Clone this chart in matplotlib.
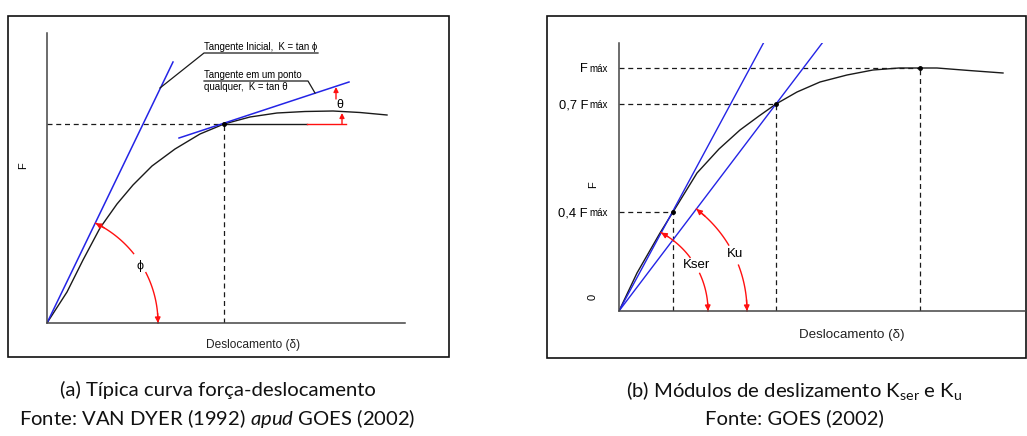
import numpy as np
import matplotlib
matplotlib.use('Agg')
import matplotlib.pyplot as plt
from matplotlib.patches import Rectangle

plt.rcParams['mathtext.fontset'] = 'custom'
plt.rcParams['mathtext.rm'] = 'Lato'
plt.rcParams['mathtext.it'] = 'Lato:italic'

# ---- (a) curva tipica, unidades arbitrarias ----
curva_a_x = [0, 2.0, 3.6, 5.3, 7.0, 8.6, 10.5, 12.8, 15.3, 17.7, 20.3, 23.0, 25.8, 28.6, 31.3, 34.0]
curva_a_y = [0, 3.1, 6.3, 9.5, 11.9, 13.8, 15.7, 17.4, 18.9, 19.9, 20.6, 21.0, 21.15, 21.2, 21.05, 20.8]
ponto_a = (17.7, 19.9)
tang_ini_x = [0, 12.6]
tang_ini_y = [0, 26.1]
tang_pt_x = [13.2, 30.2]
tang_pt_y = [18.5, 24.1]
horiz_preto = [17.7, 26.0]
horiz_vermelho = [26.0, 29.9]
raio_phi = 11.1
ang_phi = 64.0

# ---- (b) modulos de deslizamento ----
curva_b_x = [0, 1.8, 4.1, 5.4, 7.8, 10.0, 12.1, 14.0, 15.7, 17.8, 20.1, 22.8, 25.4, 28.0, 30.1, 31.8, 35.0, 38.4]
curva_b_y = [0, 3.8, 7.8, 9.9, 13.8, 16.2, 18.1, 19.5, 20.7, 21.9, 22.9, 23.6, 24.1, 24.3, 24.3, 24.3, 24.05, 23.8]
pontos_b_x = [5.4, 15.7, 30.1]
pontos_b_y = [9.9, 20.7, 24.3]
rotulos_b = ['0,4 F', '0,7 F', 'F']
kser_fim = (14.5, 26.9)
ku_fim = (20.4, 26.9)
raio_kser, ang_kser = 8.9, 61.7
raio_ku, ang_ku = 12.8, 52.8

W, H = 1027, 436
fig = plt.figure(figsize=(W / 100, H / 100), dpi=100)

azul = '#2424e6'
verm = '#ff1010'
preto = '#1a1a1a'
diag_font = ['Liberation Sans', 'DejaVu Sans']


def arco(ax, r, a0, a1):
    t = np.radians(np.linspace(a0, a1, 40))
    ax.plot(r * np.cos(t), r * np.sin(t), color=verm, lw=1, clip_on=False)


def seta(ax, r, a_fim, sentido):
    t1 = np.radians(a_fim)
    t0 = np.radians(a_fim - sentido * 5)
    ax.annotate('', xy=(r * np.cos(t1), r * np.sin(t1)),
                xytext=(r * np.cos(t0), r * np.sin(t0)),
                arrowprops=dict(arrowstyle='-|>', color=verm, lw=1,
                                shrinkA=0, shrinkB=0, mutation_scale=8),
                annotation_clip=False)


def eixos(ax):
    for s in ['top', 'right']:
        ax.spines[s].set_visible(False)
    for s in ['left', 'bottom']:
        ax.spines[s].set_color('#444444')
        ax.spines[s].set_linewidth(1.1)
    ax.set_xticks([])
    ax.set_yticks([])
    ax.patch.set_alpha(0)


# fundo com molduras e legendas
bg = fig.add_axes([0, 0, 1, 1])
bg.set_xlim(0, W)
bg.set_ylim(H, 0)
bg.axis('off')
bg.add_patch(Rectangle((8, 16), 441, 341, fill=False, lw=1.2, ec='#111111'))
bg.add_patch(Rectangle((547, 16), 479, 342, fill=False, lw=1.2, ec='#111111'))
cap = dict(ha='center', va='center', fontsize=14.6, family='Lato', color='#111111')
bg.text(218, 390, '(a) Típica curva força-deslocamento', **cap)
bg.text(217, 418, 'Fonte: VAN DYER (1992) $\\mathit{apud}$ GOES (2002)', **cap)
bg.text(794, 390, '(b) Módulos de deslizamento K$_{\\mathrm{ser}}$ e K$_{\\mathrm{u}}$', **cap)
bg.text(794, 418, 'Fonte: GOES (2002)', **cap)

# ---------------- painel (a) ----------------
ax = fig.add_axes([47 / W, (H - 323) / H, 358 / W, 290 / H])
eixos(ax)
ax.set_xlim(0, 35.8)
ax.set_ylim(0, 29.0)
ax.plot([0, ponto_a[0]], [ponto_a[1]] * 2, ls=(0, (4, 3)), color=preto, lw=0.9)
ax.plot([ponto_a[0]] * 2, [0, ponto_a[1]], ls=(0, (4, 3)), color=preto, lw=0.9)
ax.plot(curva_a_x, curva_a_y, color=preto, lw=1)
ax.plot(tang_ini_x, tang_ini_y, color=azul, lw=1.1)
ax.plot(tang_pt_x, tang_pt_y, color=azul, lw=1.1)
ax.plot(horiz_preto, [ponto_a[1]] * 2, color=preto, lw=1)
ax.plot(horiz_vermelho, [ponto_a[1]] * 2, color=verm, lw=1)
ax.plot(*ponto_a, 'o', color='black', ms=2.5)

# angulo phi
arco(ax, raio_phi, 0, 27)
arco(ax, raio_phi, 38.7, ang_phi)
seta(ax, raio_phi, 0, -1)
seta(ax, raio_phi, ang_phi, 1)
ax.text(9.3, 5.7, 'ϕ', ha='center', va='center', fontsize=9, family=diag_font)

# angulo theta
ax.annotate('', xy=(28.9, 23.6), xytext=(28.9, 22.4),
            arrowprops=dict(arrowstyle='-|>', color=verm, lw=1, shrinkA=0,
                            shrinkB=0, mutation_scale=7))
ax.annotate('', xy=(29.5, 21.0), xytext=(29.5, 19.9),
            arrowprops=dict(arrowstyle='-|>', color=verm, lw=1, shrinkA=0,
                            shrinkB=0, mutation_scale=7))
ax.text(29.3, 21.8, 'θ', ha='center', va='center', fontsize=9, family=diag_font)

# chamadas
ax.plot([11.3, 15.7, 27.1], [23.5, 27.0, 27.0], color=preto, lw=0.9)
ax.text(15.7, 27.15, 'Tangente Inicial,  K = tan ϕ', ha='left', va='bottom',
        fontsize=6.95, family=diag_font)
ax.plot([15.7, 26.1, 26.8], [24.2, 24.2, 23.0], color=preto, lw=0.9)
ax.text(15.7, 24.35, 'Tangente em um ponto', ha='left', va='bottom',
        fontsize=6.95, family=diag_font)
ax.text(15.7, 24.05, 'qualquer,  K = tan θ', ha='left', va='top',
        fontsize=6.95, family=diag_font)

ax.text(-2.4, 15.7, 'F', rotation=90, ha='center', va='center', fontsize=8,
        family=diag_font)
ax.text(20.6, -2.2, 'Deslocamento (δ)', ha='center', va='center', fontsize=8.6,
        family=diag_font, color='#222222')

# ---------------- painel (b) ----------------
bx = fig.add_axes([619 / W, (H - 311) / H, 406 / W, 268 / H])
eixos(bx)
bx.set_xlim(0, 40.6)
bx.set_ylim(0, 26.8)
for px, py in zip(pontos_b_x, pontos_b_y):
    bx.plot([0, px], [py, py], ls=(0, (4, 3)), color=preto, lw=0.9)
    bx.plot([px, px], [0, py], ls=(0, (4, 3)), color=preto, lw=0.9)
bx.plot(curva_b_x, curva_b_y, color=preto, lw=1)
bx.plot([0, kser_fim[0]], [0, kser_fim[1]], color=azul, lw=1)
bx.plot([0, ku_fim[0]], [0, ku_fim[1]], color=azul, lw=1)
bx.plot(pontos_b_x, pontos_b_y, 'o', color='black', ms=2.5)

arco(bx, raio_kser, 0, 25)
arco(bx, raio_kser, 37, ang_kser)
seta(bx, raio_kser, 0, -1)
seta(bx, raio_kser, ang_kser, 1)
bx.text(7.7, 4.6, 'Kser', ha='center', va='center', fontsize=9.5, family=diag_font)
arco(bx, raio_ku, 0, 21)
arco(bx, raio_ku, 31, ang_ku)
seta(bx, raio_ku, 0, -1)
seta(bx, raio_ku, ang_ku, 1)
bx.text(11.6, 5.7, 'Ku', ha='center', va='center', fontsize=9.5, family=diag_font)

for lab, py in zip(rotulos_b, pontos_b_y):
    bx.text(-3.1, py - 0.4, lab, ha='right', va='baseline', fontsize=9.3,
            family=diag_font)
    bx.text(-1.1, py - 0.4, 'máx', ha='right', va='baseline', fontsize=7,
            family=diag_font)
bx.text(-2.6, 12.6, 'F', rotation=90, ha='center', va='center', fontsize=8,
        family=diag_font)
bx.text(-2.6, 1.4, '0', rotation=90, ha='center', va='center', fontsize=8,
        family=diag_font)
bx.text(23.3, -2.4, 'Deslocamento (δ)', ha='center', va='center', fontsize=9.6,
        family=diag_font, color='#222222')

fig.savefig('out.png', dpi=100)
